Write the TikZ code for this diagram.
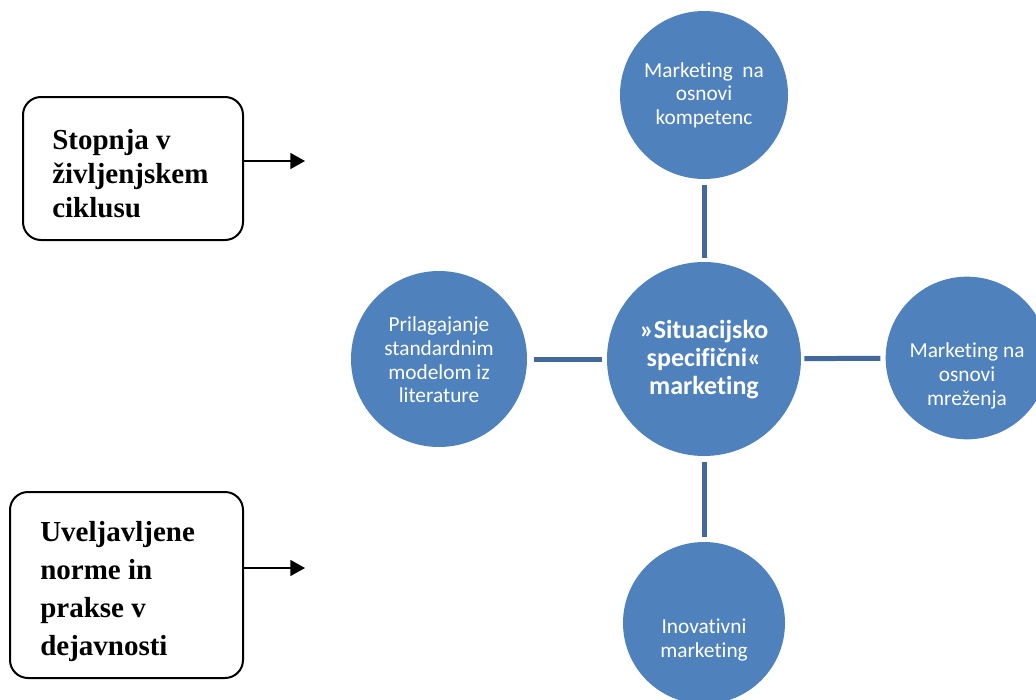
\documentclass[tikz,border=0pt]{standalone}
\usepackage{fontspec}
\setmainfont{Liberation Serif}
\newfontfamily\calib[Ligatures=NoCommon]{Carlito}
\usetikzlibrary{arrows.meta}
\definecolor{cfill}{HTML}{4F81BD}
\definecolor{cline}{HTML}{41699C}
\begin{document}
\begin{tikzpicture}[x=0.75pt,y=-0.75pt,
 bub/.style={circle,fill=cfill,draw=none,inner sep=0pt},
 btxt/.style={text=white,align=center,font=\calib\fontsize{16}{17.75}\selectfont,inner sep=0pt},
 ctxt/.style={text=white,align=center,font=\calib\bfseries\fontsize{19.5}{21}\selectfont,inner sep=0pt},
 conn/.style={draw=cline,line width=3.75pt},
 lbox/.style={draw=black,line width=1.5pt,rounded corners=13.5pt,fill=white,inner sep=0pt},
 ltxt/.style={align=left,font=\bfseries\fontsize{21.75}{25.5}\selectfont,inner sep=0pt,anchor=west},
 arr/.style={-{Triangle[length=11pt,width=12pt]},line width=1.1pt}]
\useasboundingbox (0,0) rectangle (1036,700);
\clip (0,0) rectangle (1036,700);
% circles
\node[bub,minimum size=126pt] (top) at (704,95) {};
\node[bub,minimum size=145.5pt] (ctr) at (704,359) {};
\node[bub,minimum size=132pt] (lft) at (439,359) {};
\node[bub,minimum size=122pt] (rgt) at (967,358) {};
\node[bub,minimum size=121.5pt] (bot) at (704,623) {};
% circle texts
\node[btxt] (ttop) at (704,95) {Marketing\ \ na\\osnovi\\kompetenc};
\node[ctxt] (tctr) at (704,360) {»Situacijsko\\specifični«\\marketing};
\node[btxt] (tlft) at (439,360) {Prilagajanje\\standardnim\\modelom iz\\literature};
\node[btxt] (trgt) at (967,376) {Marketing na\\osnovi\\mreženja};
\node[btxt] (tbot) at (704,640) {Inovativni\\marketing};
% connectors
\draw[conn,shorten <=4.5pt,shorten >=3pt] (top) -- (ctr);
\draw[conn,shorten <=5.25pt,shorten >=3.75pt] (lft) -- (ctr);
\draw[conn,shorten <=2.25pt,shorten >=3.75pt] (ctr) -- (rgt);
\draw[conn,shorten <=4.5pt,shorten >=3.75pt] (ctr) -- (bot);
% left boxes
\node[lbox,minimum width=165pt,minimum height=107.25pt] (box1) at (133,168.5) {};
\node[lbox,minimum width=174.75pt,minimum height=139.5pt] (box2) at (126.5,585) {};
\node[ltxt] (tx1) at (52,174) {Stopnja v\\življenjskem\\ciklusu};
\begin{scope}
\clip (10,492) rectangle (243,661);
\node[ltxt,font=\bfseries\fontsize{21.75}{28.5}\selectfont] (tx2) at (40,592) {Uveljavljene\\norme in\\prakse v\\dejavnosti};
\end{scope}
% arrows
\coordinate (a1) at (305,161);
\coordinate (a2) at (305,568);
\draw[arr] (box1.east |- a1) -- (a1);
\draw[arr] (box2.east |- a2) -- (a2);
\end{tikzpicture}
\end{document}
